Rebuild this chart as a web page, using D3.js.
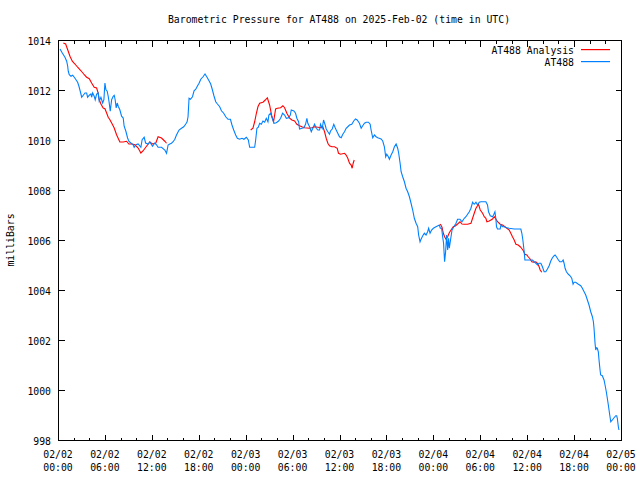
<!DOCTYPE html>
<html>
<head>
<meta charset="utf-8">
<script src="https://cdn.jsdelivr.net/npm/d3@7"></script>
<style>
  html, body { margin: 0; padding: 0; background: #fff; }
  svg text { font-family: "DejaVu Sans Mono", "Liberation Mono", monospace; font-size: 9.8px; fill: #000; }
</style>
</head>
<body>
<svg id="chart" width="640" height="480"></svg>
<script>
// ---------- DATA ----------
const chartTitle = "Barometric Pressure for AT488 on 2025-Feb-02 (time in UTC)";
const yAxisLabel = "milliBars";
const startTime = Date.UTC(2025, 1, 2, 0, 0);   // 02/02 00:00 UTC
const endTime   = Date.UTC(2025, 1, 5, 0, 0);   // 02/05 00:00 UTC
const yTicks = [998, 1000, 1002, 1004, 1006, 1008, 1010, 1012, 1014];
const xTickDates = ["02/02","02/02","02/02","02/02","02/03","02/03","02/03","02/03","02/04","02/04","02/04","02/04","02/05"];
const xTickTimes = ["00:00","06:00","12:00","18:00","00:00","06:00","12:00","18:00","00:00","06:00","12:00","18:00","00:00"];
const seriesNames = ["AT488 Analysis", "AT488"];

// AT488 observations: hours after 02/02 00:00 UTC, pressure (mb)
const obsHours = [0.26,0.55,0.89,1.11,1.24,1.31,1.44,1.66,1.88,2.08,2.30,2.51,2.68,2.90,3.03,3.23,3.45,3.66,3.79,4.00,4.21,4.30,4.43,4.63,4.76,4.94,5.14,5.27,5.49,5.71,5.87,6.00,6.13,6.29,6.42,6.55,6.68,6.86,7.06,7.19,7.31,7.44,7.57,7.70,7.91,8.13,8.34,8.46,8.68,8.90,9.06,9.32,9.61,9.74,9.96,10.25,10.60,10.76,11.02,11.20,11.53,11.74,12.09,12.38,12.60,12.80,13.24,13.66,13.88,14.08,14.30,14.51,14.72,14.94,15.15,15.48,15.79,16.08,16.34,16.51,16.63,16.76,16.94,17.20,17.40,17.62,17.83,18.04,18.26,18.55,18.80,19.06,19.31,19.53,19.75,19.95,20.17,20.39,20.68,20.90,21.19,21.45,21.74,22.05,22.25,22.47,22.72,22.94,23.23,23.53,23.78,24.09,24.34,24.51,24.73,25.15,25.28,25.44,25.62,25.79,26.00,26.21,26.43,26.64,26.85,26.97,27.19,27.41,27.61,27.92,28.21,28.47,28.72,28.98,29.20,29.49,29.71,29.83,30.17,30.38,30.55,30.77,30.89,31.19,31.44,31.66,31.83,31.95,32.17,32.39,32.59,32.81,33.03,33.23,33.45,33.57,33.79,33.96,34.17,34.30,34.51,34.72,34.85,35.07,35.27,35.45,35.58,35.78,36.00,36.22,36.42,36.64,36.85,37.06,37.28,37.57,37.82,38.04,38.26,38.55,38.77,38.97,39.19,39.41,39.70,39.92,40.04,40.25,40.47,40.68,40.89,41.32,41.53,41.74,41.91,42.04,42.25,42.38,42.60,42.81,43.02,43.24,43.44,43.57,43.75,43.88,44.08,44.30,44.51,44.72,44.94,45.15,45.36,45.57,45.79,46.00,46.12,46.30,46.43,46.63,46.85,47.07,47.27,47.40,47.58,47.78,48.00,48.34,48.77,48.89,49.06,49.19,49.31,49.44,49.57,49.70,49.83,49.95,50.04,50.26,50.39,50.68,50.90,51.10,51.41,51.66,51.96,52.17,52.38,52.60,52.81,53.02,53.23,53.45,53.65,53.87,54.09,54.72,54.93,55.06,55.28,55.57,55.70,55.88,56.00,56.08,56.21,56.55,56.64,56.85,57.06,57.41,57.70,58.34,59.19,59.32,59.45,59.62,59.71,60.47,60.68,60.89,61.11,61.31,61.53,61.75,61.95,62.17,62.38,62.59,62.81,63.02,63.23,63.45,63.57,63.74,64.00,64.17,64.43,64.60,64.72,64.85,65.02,65.27,65.49,65.70,65.87,66.00,66.21,66.55,66.85,67.06,67.28,67.49,67.70,67.91,68.13,68.34,68.47,68.55,68.68,68.77,68.85,68.97,69.10,69.19,69.32,69.40,69.61,69.83,69.96,70.12,70.25,70.38,70.56,70.69,70.89,71.11,71.33,71.45,71.53,71.66,71.74];
const obsPressure = [1013.64,1013.48,1013.31,1013.15,1012.95,1012.75,1012.61,1012.55,1012.59,1012.51,1012.41,1012.31,1012.15,1011.88,1011.71,1011.79,1011.88,1011.88,1011.71,1011.79,1011.84,1011.71,1011.88,1011.75,1011.61,1011.84,1011.88,1011.55,1011.71,1011.48,1011.61,1012.28,1012.01,1011.95,1011.75,1011.48,1011.15,1011.61,1011.75,1011.79,1011.61,1011.28,1011.48,1011.35,1011.21,1010.95,1010.88,1010.55,1010.35,1010.08,1009.95,1009.88,1009.81,1009.71,1009.81,1009.84,1009.71,1010.01,1010.11,1009.88,1009.84,1009.92,1009.75,1009.88,1009.81,1009.71,1009.71,1009.60,1009.47,1009.80,1009.84,1009.87,1009.93,1010.03,1010.20,1010.40,1010.47,1010.53,1010.64,1010.73,1010.93,1011.67,1011.63,1011.73,1011.97,1012.03,1012.16,1012.27,1012.43,1012.53,1012.64,1012.51,1012.37,1012.24,1012.00,1011.76,1011.53,1011.44,1011.33,1011.17,1011.07,1010.93,1010.83,1010.83,1010.60,1010.40,1010.20,1010.07,1010.03,1010.07,1010.03,1010.11,1010.00,1009.71,1009.71,1009.71,1010.00,1010.47,1010.51,1010.67,1010.63,1010.76,1010.71,1010.87,1010.73,1011.00,1011.07,1010.87,1010.67,1010.69,1010.76,1010.87,1011.07,1011.00,1010.87,1010.89,1011.00,1011.20,1011.16,1011.07,1010.87,1010.73,1010.44,1010.47,1010.49,1010.63,1010.87,1010.67,1010.53,1010.33,1010.47,1010.63,1010.47,1010.40,1010.40,1010.63,1010.47,1010.80,1010.60,1010.44,1010.33,1010.23,1010.36,1010.44,1010.63,1010.49,1010.40,1010.27,1010.13,1010.09,1010.23,1010.33,1010.47,1010.53,1010.60,1010.63,1010.76,1010.84,1010.80,1010.67,1010.47,1010.57,1010.67,1010.71,1010.71,1010.63,1010.40,1010.09,1010.20,1010.13,1010.09,1010.04,1009.96,1009.73,1009.33,1009.43,1009.33,1009.23,1009.40,1009.53,1009.73,1009.84,1009.67,1009.47,1009.07,1008.73,1008.53,1008.33,1008.07,1007.93,1007.73,1007.47,1007.20,1006.87,1006.67,1006.53,1006.20,1005.93,1006.03,1006.16,1006.27,1006.20,1006.33,1006.47,1006.27,1006.40,1006.47,1006.53,1006.60,1006.47,1006.47,1006.13,1005.87,1005.13,1005.53,1006.20,1005.60,1006.07,1005.67,1006.13,1006.40,1006.56,1006.67,1006.83,1006.83,1006.73,1006.87,1006.93,1007.03,1007.13,1007.27,1007.51,1007.43,1007.51,1007.40,1007.51,1007.53,1007.53,1007.40,1007.13,1006.97,1006.93,1007.00,1007.13,1006.84,1006.53,1006.44,1006.44,1006.60,1006.53,1006.53,1006.49,1006.47,1006.44,1006.44,1006.27,1006.00,1005.53,1005.20,1005.20,1005.20,1005.13,1005.07,1005.00,1005.07,1005.07,1004.93,1004.73,1004.73,1004.84,1004.97,1005.16,1005.29,1005.37,1005.40,1005.33,1005.20,1005.13,1005.13,1005.20,1005.07,1004.87,1004.73,1004.63,1004.57,1004.47,1004.23,1004.31,1004.31,1004.23,1004.17,1004.07,1003.93,1003.80,1003.60,1003.40,1003.13,1002.93,1002.73,1002.47,1001.87,1001.60,1001.69,1001.67,1001.53,1001.20,1000.80,1000.60,1000.57,1000.40,1000.20,999.93,999.67,999.40,999.00,998.73,998.80,998.89,998.97,998.97,998.87,998.53,998.40];

// AT488 Analysis: three separate segments (hours, mb)
const anaHours1 = [0.68,0.98,1.24,1.53,1.83,2.17,2.51,2.94,3.36,3.66,4.00,4.30,4.63,4.94,5.14,5.27,5.49,5.78,6.00,6.22,6.42,6.64,6.93,7.19,7.49,7.91,8.34,8.77,9.06,9.49,9.83,10.25,10.60,10.89,11.32,11.74,12.09,12.51,12.80,13.24,13.66,13.88];
const anaPressure1 = [1013.88,1013.84,1013.61,1013.35,1013.15,1013.04,1012.91,1012.77,1012.61,1012.51,1012.45,1012.28,1012.11,1012.08,1011.88,1011.61,1011.44,1011.28,1011.25,1011.08,1010.91,1010.81,1010.64,1010.48,1010.21,1009.92,1009.92,1009.95,1009.84,1009.84,1009.81,1009.68,1009.48,1009.57,1009.75,1009.92,1009.84,1009.88,1010.13,1010.08,1009.95,1009.87];
const anaHours2 = [24.64,24.93,25.15,25.37,25.57,25.79,26.21,26.51,26.77,27.06,27.36,27.57,27.83,28.05,28.47,28.76,28.98,29.27,29.62,29.91,30.26,30.55,30.89,31.19,31.53,32.17,32.46,32.81,33.66,33.87,34.09,34.30,34.51,34.72,35.02,35.36,35.71,35.87,36.13,36.64,36.85,37.06,37.28,37.49,37.62,37.75,37.88];
const anaPressure2 = [1010.40,1010.47,1010.73,1011.07,1011.33,1011.47,1011.51,1011.60,1011.69,1011.40,1010.93,1010.73,1011.24,1011.27,1011.29,1011.37,1011.29,1011.07,1010.87,1010.80,1010.76,1010.63,1010.57,1010.53,1010.49,1010.47,1010.49,1010.53,1010.49,1010.53,1010.33,1010.07,1009.87,1009.77,1009.73,1009.73,1009.67,1009.47,1009.43,1009.47,1009.40,1009.27,1009.07,1009.00,1008.87,1009.07,1009.20];
const anaHours3 = [48.89,49.11,49.28,49.44,49.62,49.83,50.04,50.26,50.55,50.81,51.10,51.41,51.66,51.96,52.38,52.81,53.02,53.23,53.45,53.65,53.78,54.00,54.30,54.51,54.72,54.85,55.15,55.57,55.79,56.00,56.21,56.55,56.85,57.15,57.41,57.70,57.91,58.12,58.34,58.56,58.85,59.11,59.28,59.53,59.71,59.96,60.13,60.38,60.60,60.81,61.11,61.31,61.53,61.66,61.87];
const anaPressure3 = [1006.64,1006.51,1006.27,1006.13,1006.03,1006.13,1006.29,1006.40,1006.53,1006.56,1006.64,1006.73,1006.64,1006.63,1006.63,1006.67,1006.87,1007.07,1007.27,1007.37,1007.43,1007.20,1007.07,1006.93,1006.87,1006.73,1006.76,1006.84,1006.93,1006.84,1006.73,1006.63,1006.60,1006.53,1006.47,1006.40,1006.27,1006.13,1006.00,1005.83,1005.80,1005.73,1005.67,1005.56,1005.43,1005.40,1005.33,1005.24,1005.13,1005.11,1005.13,1005.07,1004.93,1004.80,1004.71];

// ---------- CHART ----------
const W = 640, H = 480;
const margin = { left: 58, right: 19, top: 40, bottom: 40 };
const x0 = margin.left, x1 = W - margin.right, yTop = margin.top, yBot = H - margin.bottom;
const colorAna = "#ff0000", colorObs = "#0080ff";

const svg = d3.select("#chart");
svg.append("rect").attr("width", W).attr("height", H).attr("fill", "#fff");

const x = d3.scaleUtc().domain([new Date(startTime), new Date(endTime)]).range([x0, x1]);
const y = d3.scaleLinear().domain([998, 1014]).range([yBot, yTop]);

const toDate = h => new Date(startTime + h * 3600e3);
const zipSeries = (hs, ps) => hs.map((h, i) => ({ t: toDate(h), p: ps[i] }));

// Title
svg.append("text").attr("x", 339).attr("y", 19).attr("text-anchor", "middle")
  .attr("dominant-baseline", "central").text(chartTitle);

// Y label
svg.append("text").attr("transform", "translate(10,240) rotate(-90)")
  .attr("text-anchor", "middle").attr("dominant-baseline", "central").text(yAxisLabel);

// Ticks
const majorTicks = d3.range(0, 73, 6).map(h => toDate(h));
const minorTicks = d3.range(0, 73, 2).filter(h => h % 6 !== 0).map(h => toDate(h));

const g = svg.append("g").attr("shape-rendering", "crispEdges");

g.append("g").attr("transform", `translate(0,${yBot + 0.5})`)
  .call(d3.axisBottom(x).tickValues(majorTicks).tickSizeInner(-6).tickSizeOuter(0).tickFormat(""))
  .call(s => s.select(".domain").remove());
g.append("g").attr("transform", `translate(0,${yBot + 0.5})`)
  .call(d3.axisBottom(x).tickValues(minorTicks).tickSizeInner(-3).tickSizeOuter(0).tickFormat(""))
  .call(s => s.select(".domain").remove());
g.append("g").attr("transform", `translate(0,${yTop + 0.5})`)
  .call(d3.axisTop(x).tickValues(majorTicks).tickSizeInner(-6).tickSizeOuter(0).tickFormat(""))
  .call(s => s.select(".domain").remove());
g.append("g").attr("transform", `translate(0,${yTop + 0.5})`)
  .call(d3.axisTop(x).tickValues(minorTicks).tickSizeInner(-3).tickSizeOuter(0).tickFormat(""))
  .call(s => s.select(".domain").remove());
g.append("g").attr("transform", `translate(${x0 + 0.5},0)`)
  .call(d3.axisLeft(y).tickValues(yTicks).tickSizeInner(-6).tickSizeOuter(0).tickFormat(""))
  .call(s => s.select(".domain").remove());
g.append("g").attr("transform", `translate(${x1 + 0.5},0)`)
  .call(d3.axisRight(y).tickValues(yTicks).tickSizeInner(-6).tickSizeOuter(0).tickFormat(""))
  .call(s => s.select(".domain").remove());
g.selectAll(".tick line").attr("stroke", "#000");

// Y tick labels
svg.append("g").selectAll("text").data(yTicks).join("text")
  .attr("x", x0 - 7).attr("y", d => Math.round(y(d)) + 1)
  .attr("text-anchor", "end").attr("dominant-baseline", "central")
  .text(d => d);

// X tick labels (two lines)
const xl = svg.append("g").selectAll("text").data(majorTicks).join("text")
  .attr("text-anchor", "middle");
xl.append("tspan").attr("x", d => x(d)).attr("y", 458).text((d, i) => xTickDates[i]);
xl.append("tspan").attr("x", d => x(d)).attr("y", 471).text((d, i) => xTickTimes[i]);

// clip
svg.append("clipPath").attr("id", "plotclip").append("rect")
  .attr("x", x0).attr("y", yTop).attr("width", x1 - x0 + 1).attr("height", yBot - yTop + 1);

const line = d3.line().x(d => x(d.t)).y(d => y(d.p));
const plot = svg.append("g").attr("clip-path", "url(#plotclip)");

[zipSeries(anaHours1, anaPressure1), zipSeries(anaHours2, anaPressure2), zipSeries(anaHours3, anaPressure3)]
  .forEach(seg => plot.append("path").datum(seg).attr("d", line)
    .attr("fill", "none").attr("stroke", colorAna).attr("stroke-width", 1.1).attr("stroke-linejoin", "miter"));

plot.append("path").datum(zipSeries(obsHours, obsPressure)).attr("d", line)
  .attr("fill", "none").attr("stroke", colorObs).attr("stroke-width", 1.1).attr("stroke-linejoin", "miter");

// Frame
svg.append("rect").attr("x", x0 + 0.5).attr("y", yTop + 0.5)
  .attr("width", x1 - x0).attr("height", yBot - yTop)
  .attr("fill", "none").attr("stroke", "#000").attr("stroke-width", 1).attr("shape-rendering", "crispEdges");

// Legend
const legendRows = [ { name: seriesNames[0], color: colorAna, y: 50 }, { name: seriesNames[1], color: colorObs, y: 62 } ];
const lg = svg.append("g");
legendRows.forEach(r => {
  lg.append("text").attr("x", 574).attr("y", r.y).attr("text-anchor", "end")
    .attr("dominant-baseline", "central").text(r.name);
  lg.append("rect").attr("x", 581).attr("y", r.y - 1).attr("width", 29).attr("height", 1.2)
    .attr("fill", r.color).attr("stroke", "none");
});
</script>
</body>
</html>
